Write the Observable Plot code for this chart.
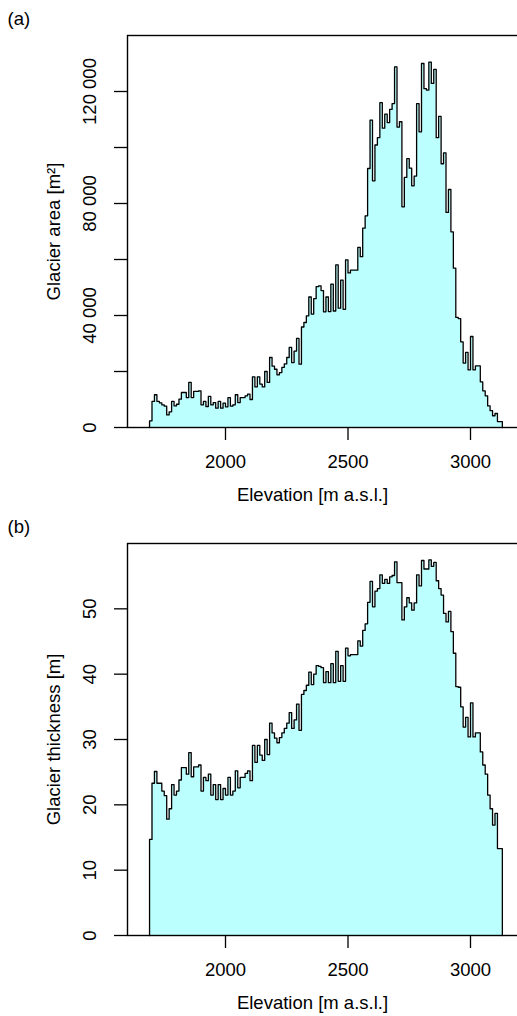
<!DOCTYPE html>
<html><head><meta charset="utf-8">
<script src="https://cdn.jsdelivr.net/npm/d3@7"></script>
<script src="https://cdn.jsdelivr.net/npm/@observablehq/plot@0.6"></script>
<style>
html,body{margin:0;padding:0;overflow:hidden;background:#fff;}
#chart{width:517px;overflow:hidden;}
svg{display:block;max-width:none !important;}
</style></head><body><div id="chart"></div>
<script>
// Elevation bin starts [m a.s.l.], 10 m bins
const elevation = [1690,1700,1710,1720,1730,1740,1750,1760,1770,1780,1790,1800,1810,1820,1830,1840,1850,1860,1870,1880,1890,1900,1910,1920,1930,1940,1950,1960,1970,1980,1990,2000,2010,2020,2030,2040,2050,2060,2070,2080,2090,2100,2110,2120,2130,2140,2150,2160,2170,2180,2190,2200,2210,2220,2230,2240,2250,2260,2270,2280,2290,2300,2310,2320,2330,2340,2350,2360,2370,2380,2390,2400,2410,2420,2430,2440,2450,2460,2470,2480,2490,2500,2510,2520,2530,2540,2550,2560,2570,2580,2590,2600,2610,2620,2630,2640,2650,2660,2670,2680,2690,2700,2710,2720,2730,2740,2750,2760,2770,2780,2790,2800,2810,2820,2830,2840,2850,2860,2870,2880,2890,2900,2910,2920,2930,2940,2950,2960,2970,2980,2990,3000,3010,3020,3030,3040,3050,3060,3070,3080,3090,3100,3110,3120];
const binEnd = 3130;

// Glacier area per bin [m²]
const glacierArea = [2400,9300,11700,9300,8800,8100,7600,4500,5600,9300,7700,8300,10100,12500,12500,10700,16100,10700,12900,12900,13100,8100,9300,7500,11100,8100,8900,6900,9300,6900,8700,7400,10700,7600,8100,11700,8900,10700,10700,11300,11900,10000,18100,14500,18100,15500,14500,20000,16100,25000,21900,20800,18800,19600,21500,22700,25000,28600,23200,27300,31800,22600,35900,37500,39900,46600,40500,46000,50300,50600,48900,41300,46600,41400,51200,41600,58100,42600,52600,42200,59900,55200,56200,56200,56200,64300,61000,71200,75600,92500,109800,88100,100900,103500,116000,106900,111900,108900,113600,115700,128800,107300,109200,78800,89300,96000,92600,86300,89800,115700,105600,130000,121000,120500,130500,122900,127900,103500,111100,94200,98100,76800,85000,69900,56900,39300,38900,30600,23000,26800,20600,32500,20600,22000,22000,16300,13100,11300,7700,6000,4200,5000,2100,2100];

// Glacier thickness per bin [m]
const glacierThickness = [14.7,23.3,25.1,23.3,23.3,22.1,21.4,17.8,19.4,23.1,21.5,22.1,23.8,25.7,25.7,24.7,28.0,24.3,25.8,25.8,26.1,22.1,24.2,23.7,24.7,21.5,23.1,20.8,23.1,20.8,22.5,21.5,24.2,21.5,22.1,25.2,22.6,24.2,24.2,24.8,25.2,23.7,29.1,26.5,29.1,27.6,26.8,30.0,27.7,32.5,31.0,30.2,29.5,30.3,31.0,31.7,32.5,34.1,31.7,33.0,35.4,31.4,36.9,37.5,38.3,40.3,38.4,40.0,41.3,41.2,41.0,38.7,40.4,38.7,41.6,38.7,43.5,38.9,41.3,38.9,44.0,42.8,43.0,43.0,43.0,45.1,44.3,46.7,47.7,51.0,54.2,50.3,52.7,53.1,55.2,53.9,54.5,53.9,54.9,55.1,57.2,54.0,54.0,48.3,50.3,51.7,50.9,49.8,50.9,55.2,53.5,57.4,56.1,56.1,57.5,56.5,57.1,54.3,53.1,52.1,49.3,48.0,49.6,46.5,43.2,38.1,38.0,35.0,31.9,33.4,30.4,35.6,30.4,31.0,31.0,28.1,26.1,24.7,21.5,19.4,16.9,18.7,13.3,13.3];

const elevationTicks = [2000, 2500, 3000];
const areaTicks = [0, 20000, 40000, 60000, 80000, 100000, 120000];
const areaTickLabels = [0, 40000, 80000, 120000];
const thicknessTicks = [0, 10, 20, 30, 40, 50];
const thicknessTickLabels = [0, 10, 20, 30, 40, 50];

const FONT = "'Liberation Sans', Arial, Helvetica, sans-serif";
const FS = 18.5;
const fmtSpace = d => d3.format(",")(d).replace(/,/g, " ");

function panel({values, ymax, ticks, tickLabels, fmt, ylabel, tag}) {
  const areaPts = elevation.map((x, i) => ({x, y: values[i]}));
  areaPts.push({x: binEnd, y: values[values.length - 1]});
  const linePts = [{x: elevation[0], y: 0}, ...areaPts, {x: binEnd, y: 0}];
  return Plot.plot({
    width: 530, height: 508,
    marginLeft: 127, marginRight: 11, marginTop: 35, marginBottom: 81,
    style: {fontFamily: FONT, fontSize: FS + "px", color: "black", background: "white", maxWidth: "none"},
    x: {domain: [1600, 3200]},
    y: {domain: [0, ymax]},
    marks: [
      Plot.areaY(areaPts, {x: "x", y: "y", curve: "step-after", fill: "#BBFFFF"}),
      Plot.line(linePts, {x: "x", y: "y", curve: "step-after", stroke: "black", strokeWidth: 1.3}),
      Plot.frame({stroke: "black", strokeWidth: 1.4}),
      Plot.axisX(elevationTicks, {tickSize: 13, tickPadding: 14, label: null, tickFormat: d => String(d), fontSize: FS, stroke: "black", strokeWidth: 1.3}),
      Plot.axisY(ticks, {tickSize: 13, tickFormat: () => "", label: null, stroke: "black", strokeWidth: 1.3}),
      Plot.text(tickLabels, {y: d => d, text: fmt, frameAnchor: "left", rotate: -90, dx: -32, textAnchor: "middle", lineAnchor: "bottom", fontSize: FS, fill: "black"}),
      Plot.text([ylabel], {text: d => d, frameAnchor: "left", rotate: -90, dx: -68, textAnchor: "middle", lineAnchor: "bottom", fontSize: FS, fill: "black"}),
      Plot.text(["Elevation [m a.s.l.]"], {text: d => d, frameAnchor: "bottom", dx: -11, dy: 73, lineAnchor: "bottom", fontSize: FS, fill: "black"}),
      Plot.text([tag], {text: d => d, frameAnchor: "top-left", dx: -120, dy: -11, textAnchor: "start", lineAnchor: "bottom", fontSize: FS, fill: "black"})
    ]
  });
}

const chart = document.getElementById("chart");
chart.append(panel({values: glacierArea, ymax: 140000, ticks: areaTicks, tickLabels: areaTickLabels, fmt: fmtSpace, ylabel: "Glacier area [m²]", tag: "(a)"}));
chart.append(panel({values: glacierThickness, ymax: 60, ticks: thicknessTicks, tickLabels: thicknessTickLabels, fmt: d => String(d), ylabel: "Glacier thickness [m]", tag: "(b)"}));
</script></body></html>
